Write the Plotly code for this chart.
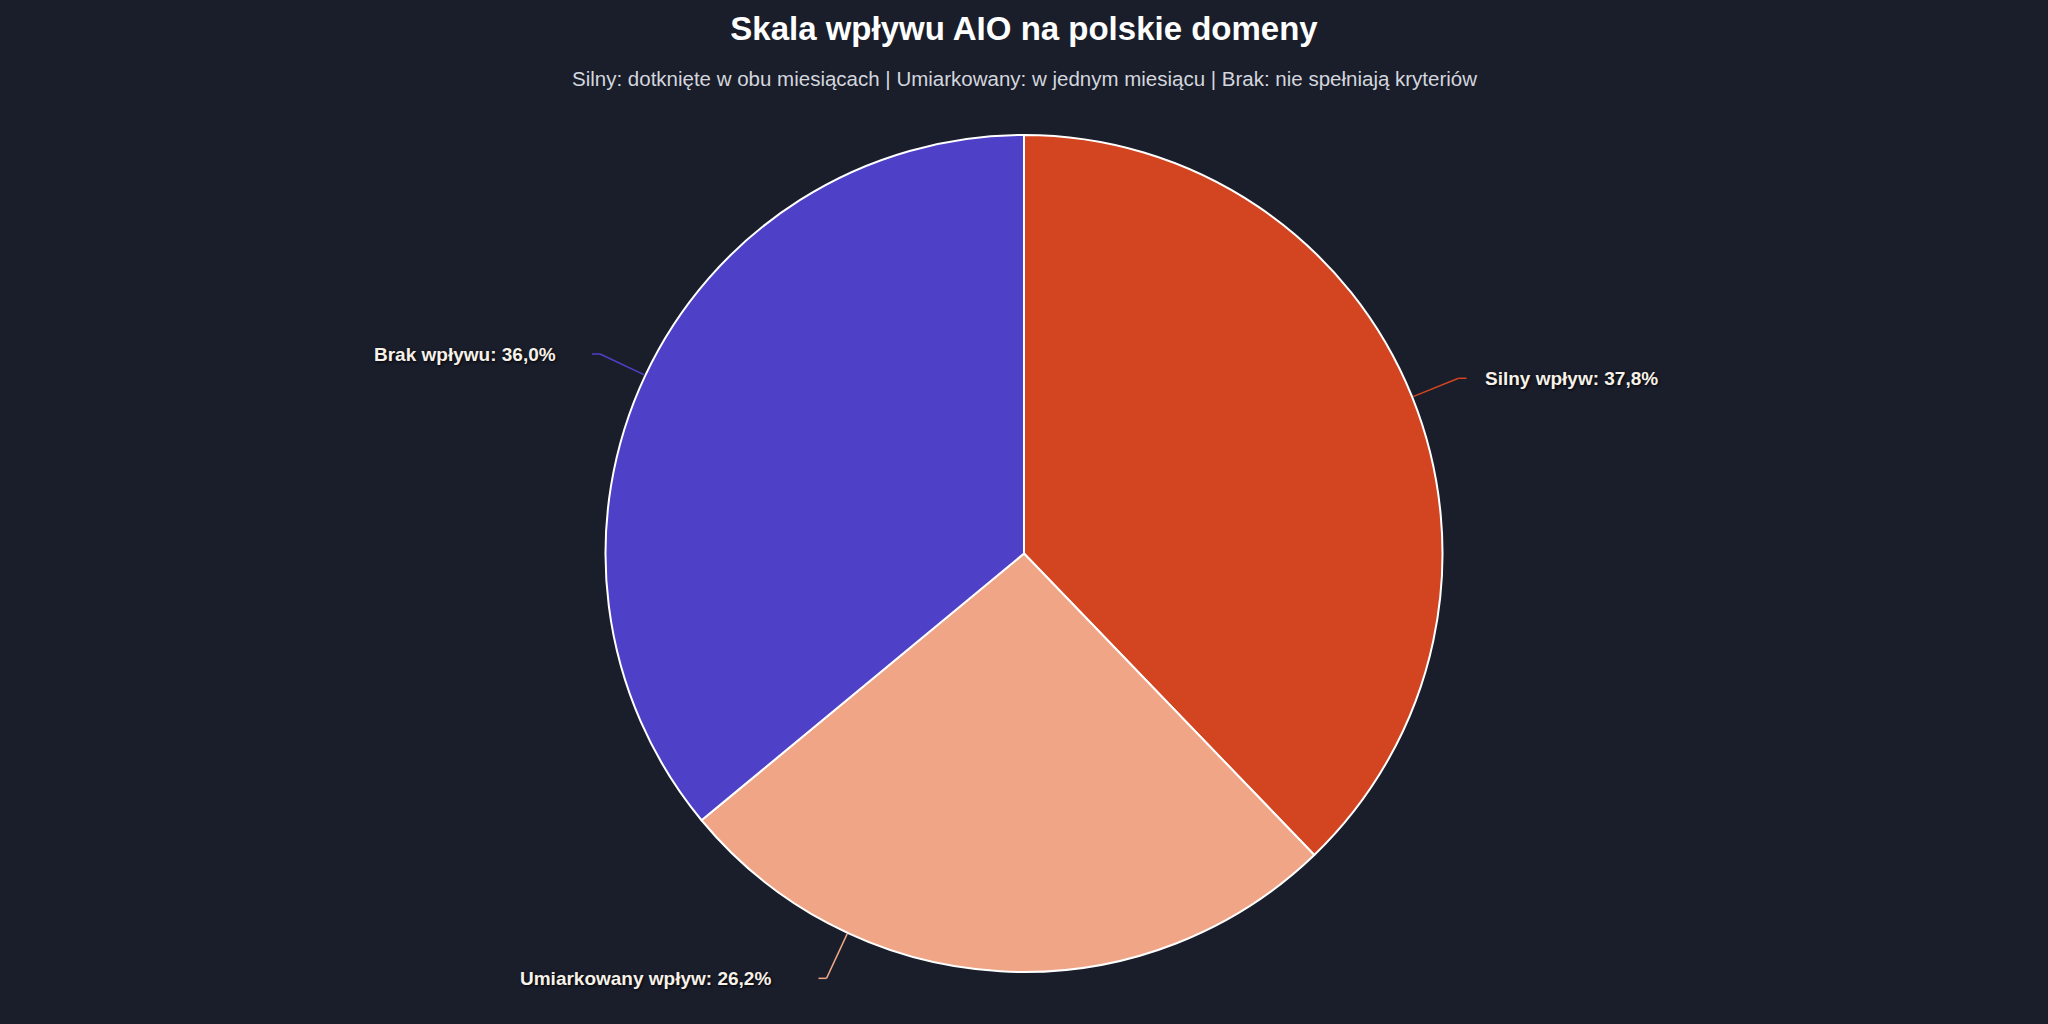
import math
import plotly.graph_objects as go

# data
labels = ["Silny wpływ", "Umiarkowany wpływ", "Brak wpływu"]
shares = [37.8, 26.2, 36.0]
colors = ["#D24520", "#F0A686", "#4F40C8"]

title = "Skala wpływu AIO na polskie domeny"
subtitle = ("Silny: dotknięte w obu miesiącach | Umiarkowany: w jednym miesiącu"
            " | Brak: nie spełniają kryteriów")

# where along each slice the label leader starts (0 = start, 1 = end)
anchor_frac = [0.5, 0.73, 0.5]
# space between leader end and label text, px
label_gap = [16, 45, 34]

W, H = 2048, 1024
M_T, M_B = 135, 52
PH = H - M_T - M_B
R = PH / 2
CX, CY = W / 2, M_T + R
BG = "#1A1E2B"
FONT = "Liberation Sans, Arial, Helvetica, sans-serif"


def to_paper(x, y):
    return x / W, (M_T + PH - y) / PH


fig = go.Figure()
fig.add_trace(go.Pie(
    labels=labels, values=shares, sort=False, direction="clockwise", rotation=0,
    marker=dict(colors=colors, line=dict(color="#FFFFFF", width=2)),
    textinfo="none", hoverinfo="label+percent", showlegend=False,
    domain=dict(x=[0, 1], y=[0, 1]),
))

total = sum(shares)
start = 0.0
shapes, annotations = [], []
for lab, val, col, fr, gap in zip(labels, shares, colors, anchor_frac, label_gap):
    ang = math.radians((start + val * fr) / total * 360)
    start += val
    sx, sy = math.sin(ang), -math.cos(ang)
    x0, y0 = CX + (R + 1) * sx, CY + (R + 1) * sy
    x1, y1 = CX + (R + 50) * sx, CY + (R + 50) * sy
    side = 1 if sx >= 0 else -1
    x2 = x1 + 8 * side
    for (a, b), (c, d) in [((x0, y0), (x1, y1)), ((x1, y1), (x2, y1))]:
        pa, pb = to_paper(a, b)
        pc, pd = to_paper(c, d)
        shapes.append(dict(type="line", xref="paper", yref="paper",
                           x0=pa, y0=pb, x1=pc, y1=pd,
                           line=dict(color=col, width=1.5)))
    tx = x2 + gap * side
    px, py = to_paper(tx, y1)
    annotations.append(dict(
        text=f"<b>{lab}: {val:.1f}%</b>".replace(".", ","),
        xref="paper", yref="paper", x=px, y=py,
        xanchor="left" if side > 0 else "right", yanchor="middle",
        showarrow=False,
        font=dict(family=FONT, size=19, color="#F6F1E9",
                  shadow="1px 1px 3px rgba(0,0,0,0.9)"),
    ))

annotations.append(dict(
    text=subtitle, xref="paper", yref="paper", x=0.5, y=to_paper(0, 79)[1],
    xanchor="center", yanchor="middle", showarrow=False,
    font=dict(family=FONT, size=20.5, color="#D4D6DE"),
))

fig.update_layout(
    width=W, height=H,
    paper_bgcolor=BG, plot_bgcolor=BG,
    margin=dict(l=0, r=0, t=M_T, b=M_B),
    title=dict(text="<b>" + title + "</b>", x=0.5, xanchor="center",
               y=1 - 28 / H, yanchor="middle", yref="container",
               font=dict(family=FONT, size=33, color="#FFFFFF")),
    shapes=shapes, annotations=annotations,
)

# drop the browser's default page margin so the figure fills the window
fig.write_html("out.html", config={"displayModeBar": False},
               post_script="document.body.style.margin='0';"
                           "document.body.style.background='" + BG + "';")
